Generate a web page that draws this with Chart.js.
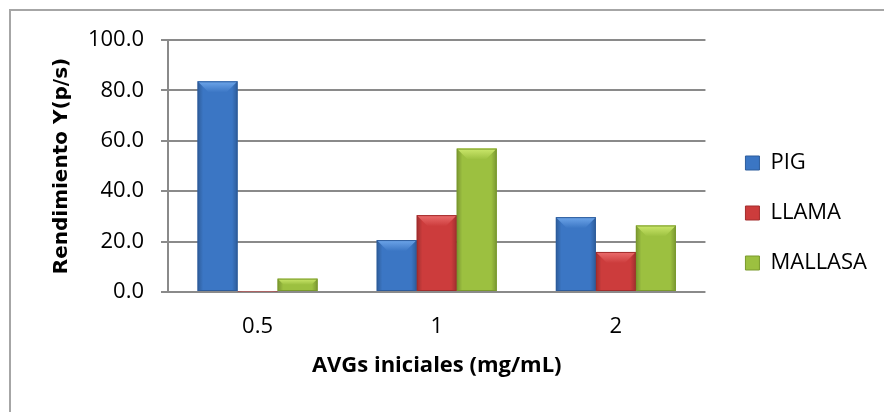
<!DOCTYPE html>
<html>
<head>
<meta charset="utf-8">
<script src="https://cdn.jsdelivr.net/npm/chart.js@4.4.1/dist/chart.umd.min.js"></script>
<style>
  html, body { margin: 0; padding: 0; background: #ffffff; }
  #wrap { width: 884px; height: 412px; position: relative; }
</style>
</head>
<body>
<div id="wrap"><canvas id="c" width="884" height="412"></canvas></div>
<script>
const categories = ["0.5", "1", "2"];
const seriesNames = ["PIG", "LLAMA", "MALLASA"];
const pigValues = [83.6, 20.6, 29.7];
const llamaValues = [0.2, 30.5, 15.9];
const mallasaValues = [5.3, 56.9, 26.4];
const yTickValues = [0, 20, 40, 60, 80, 100];
const yAxisTitle = "Rendimiento Y(p/s)";
const xAxisTitle = "AVGs iniciales (mg/mL)";

const palette = [
  { main: "#3b76c4", dark: "#2d5c9c", light: "#6ea6ea" },
  { main: "#cc3c3c", dark: "#a22c2c", light: "#ec6e6e" },
  { main: "#9cc040", dark: "#7a9a2c", light: "#cce86c" }
];

const bevelPlugin = {
  id: "bevel",
  afterDatasetsDraw(chart) {
    const ctx = chart.ctx;
    chart.data.datasets.forEach((ds, di) => {
      const meta = chart.getDatasetMeta(di);
      meta.data.forEach(bar => {
        const w = bar.width, x0 = bar.x - w / 2, x1 = bar.x + w / 2;
        const top = bar.y, base = bar.base;
        const h = base - top;
        if (!isFinite(w) || !isFinite(top) || !isFinite(base)) return;
        ctx.save();
        const sg = ctx.createLinearGradient(x0, 0, x1, 0);
        sg.addColorStop(0, "rgba(0,0,0,0.22)");
        sg.addColorStop(0.14, "rgba(0,0,0,0)");
        sg.addColorStop(0.86, "rgba(0,0,0,0)");
        sg.addColorStop(1, "rgba(0,0,0,0.22)");
        ctx.fillStyle = sg;
        ctx.fillRect(x0, top, w, h);
        if (h >= 3) {
          const b = Math.min(11, h / 2);
          ctx.beginPath();
          ctx.moveTo(x0, top); ctx.lineTo(x1, top);
          ctx.lineTo(x1 - b, top + b); ctx.lineTo(x0 + b, top + b);
          ctx.closePath();
          const g = ctx.createLinearGradient(0, top, 0, top + b);
          g.addColorStop(0, palette[di].light);
          g.addColorStop(1, palette[di].main);
          ctx.fillStyle = g;
          ctx.fill();
          ctx.strokeStyle = palette[di].dark;
          ctx.lineWidth = 1;
          ctx.strokeRect(x0 + 0.5, top + 0.5, w - 1, h - 1);
        }
        ctx.restore();
      });
    });
  }
};

const framePlugin = {
  id: "frame",
  beforeDraw(chart) {
    const ctx = chart.ctx;
    ctx.save();
    ctx.fillStyle = "#ffffff";
    ctx.fillRect(0, 0, chart.width, chart.height);
    ctx.strokeStyle = "#a6a6a6";
    ctx.lineWidth = 2;
    ctx.strokeRect(10, 10, chart.width + 20, chart.height + 20);
    ctx.restore();
  }
};

// shift the legend a little to the right of the plot area
const legendShift = {
  id: "legendShift",
  afterLayout(chart) {
    if (chart.legend) {
      chart.legend.left += 12;
      chart.legend.right += 12;
    }
  }
};

const seriesValues = [pigValues, llamaValues, mallasaValues];

new Chart(document.getElementById("c"), {
  type: "bar",
  data: {
    labels: categories,
    datasets: seriesNames.map((name, i) => ({
      label: name,
      data: seriesValues[i],
      backgroundColor: palette[i].main,
      borderColor: palette[i].dark,
      borderWidth: 0,
      categoryPercentage: 0.67,
      barPercentage: 1.0
    }))
  },
  options: {
    responsive: false,
    animation: false,
    devicePixelRatio: 1,
    layout: { padding: { top: 40, right: 19, bottom: 26, left: 40 } },
    plugins: {
      tooltip: { enabled: false },
      legend: {
        position: "right",
        align: "center",
        labels: {
          boxWidth: 14,
          boxHeight: 14,
          padding: 28,
          color: "#000000",
          font: { family: "'Open Sans', sans-serif", size: 22 },
          generateLabels(chart) {
            return seriesNames.map((n, i) => ({
              text: n,
              fillStyle: palette[i].main,
              strokeStyle: palette[i].dark,
              lineWidth: 1,
              datasetIndex: i
            }));
          }
        }
      }
    },
    scales: {
      x: {
        afterFit(axis) { axis.height = 94; },
        grid: { display: false, drawTicks: false },
        border: { display: false },
        ticks: {
          color: "#000000",
          padding: 22,
          font: { family: "'Open Sans', sans-serif", size: 22 }
        },
        title: {
          display: true,
          text: xAxisTitle,
          color: "#000000",
          padding: { top: 12, bottom: 7 },
          font: { family: "'Open Sans', sans-serif", size: 22, weight: "bold" }
        }
      },
      y: {
        min: 0,
        max: 100,
        afterFit(axis) { axis.width = 128; },
        afterBuildTicks(axis) {
          axis.ticks = yTickValues.map(v => ({ value: v }));
        },
        grid: {
          color: "#8a8a8a",
          lineWidth: 2,
          tickLength: 7,
          drawTicks: true
        },
        border: { display: true, color: "#8a8a8a", width: 2 },
        ticks: {
          color: "#000000",
          padding: 17,
          font: { family: "'Open Sans', sans-serif", size: 22 },
          callback: (v) => Number(v).toFixed(1)
        },
        title: {
          display: true,
          text: yAxisTitle,
          color: "#000000",
          padding: { top: 10, bottom: 14 },
          font: { family: "'DejaVu Sans', sans-serif", size: 20, weight: "bold" }
        }
      }
    }
  },
  plugins: [framePlugin, bevelPlugin, legendShift]
});
</script>
</body>
</html>
